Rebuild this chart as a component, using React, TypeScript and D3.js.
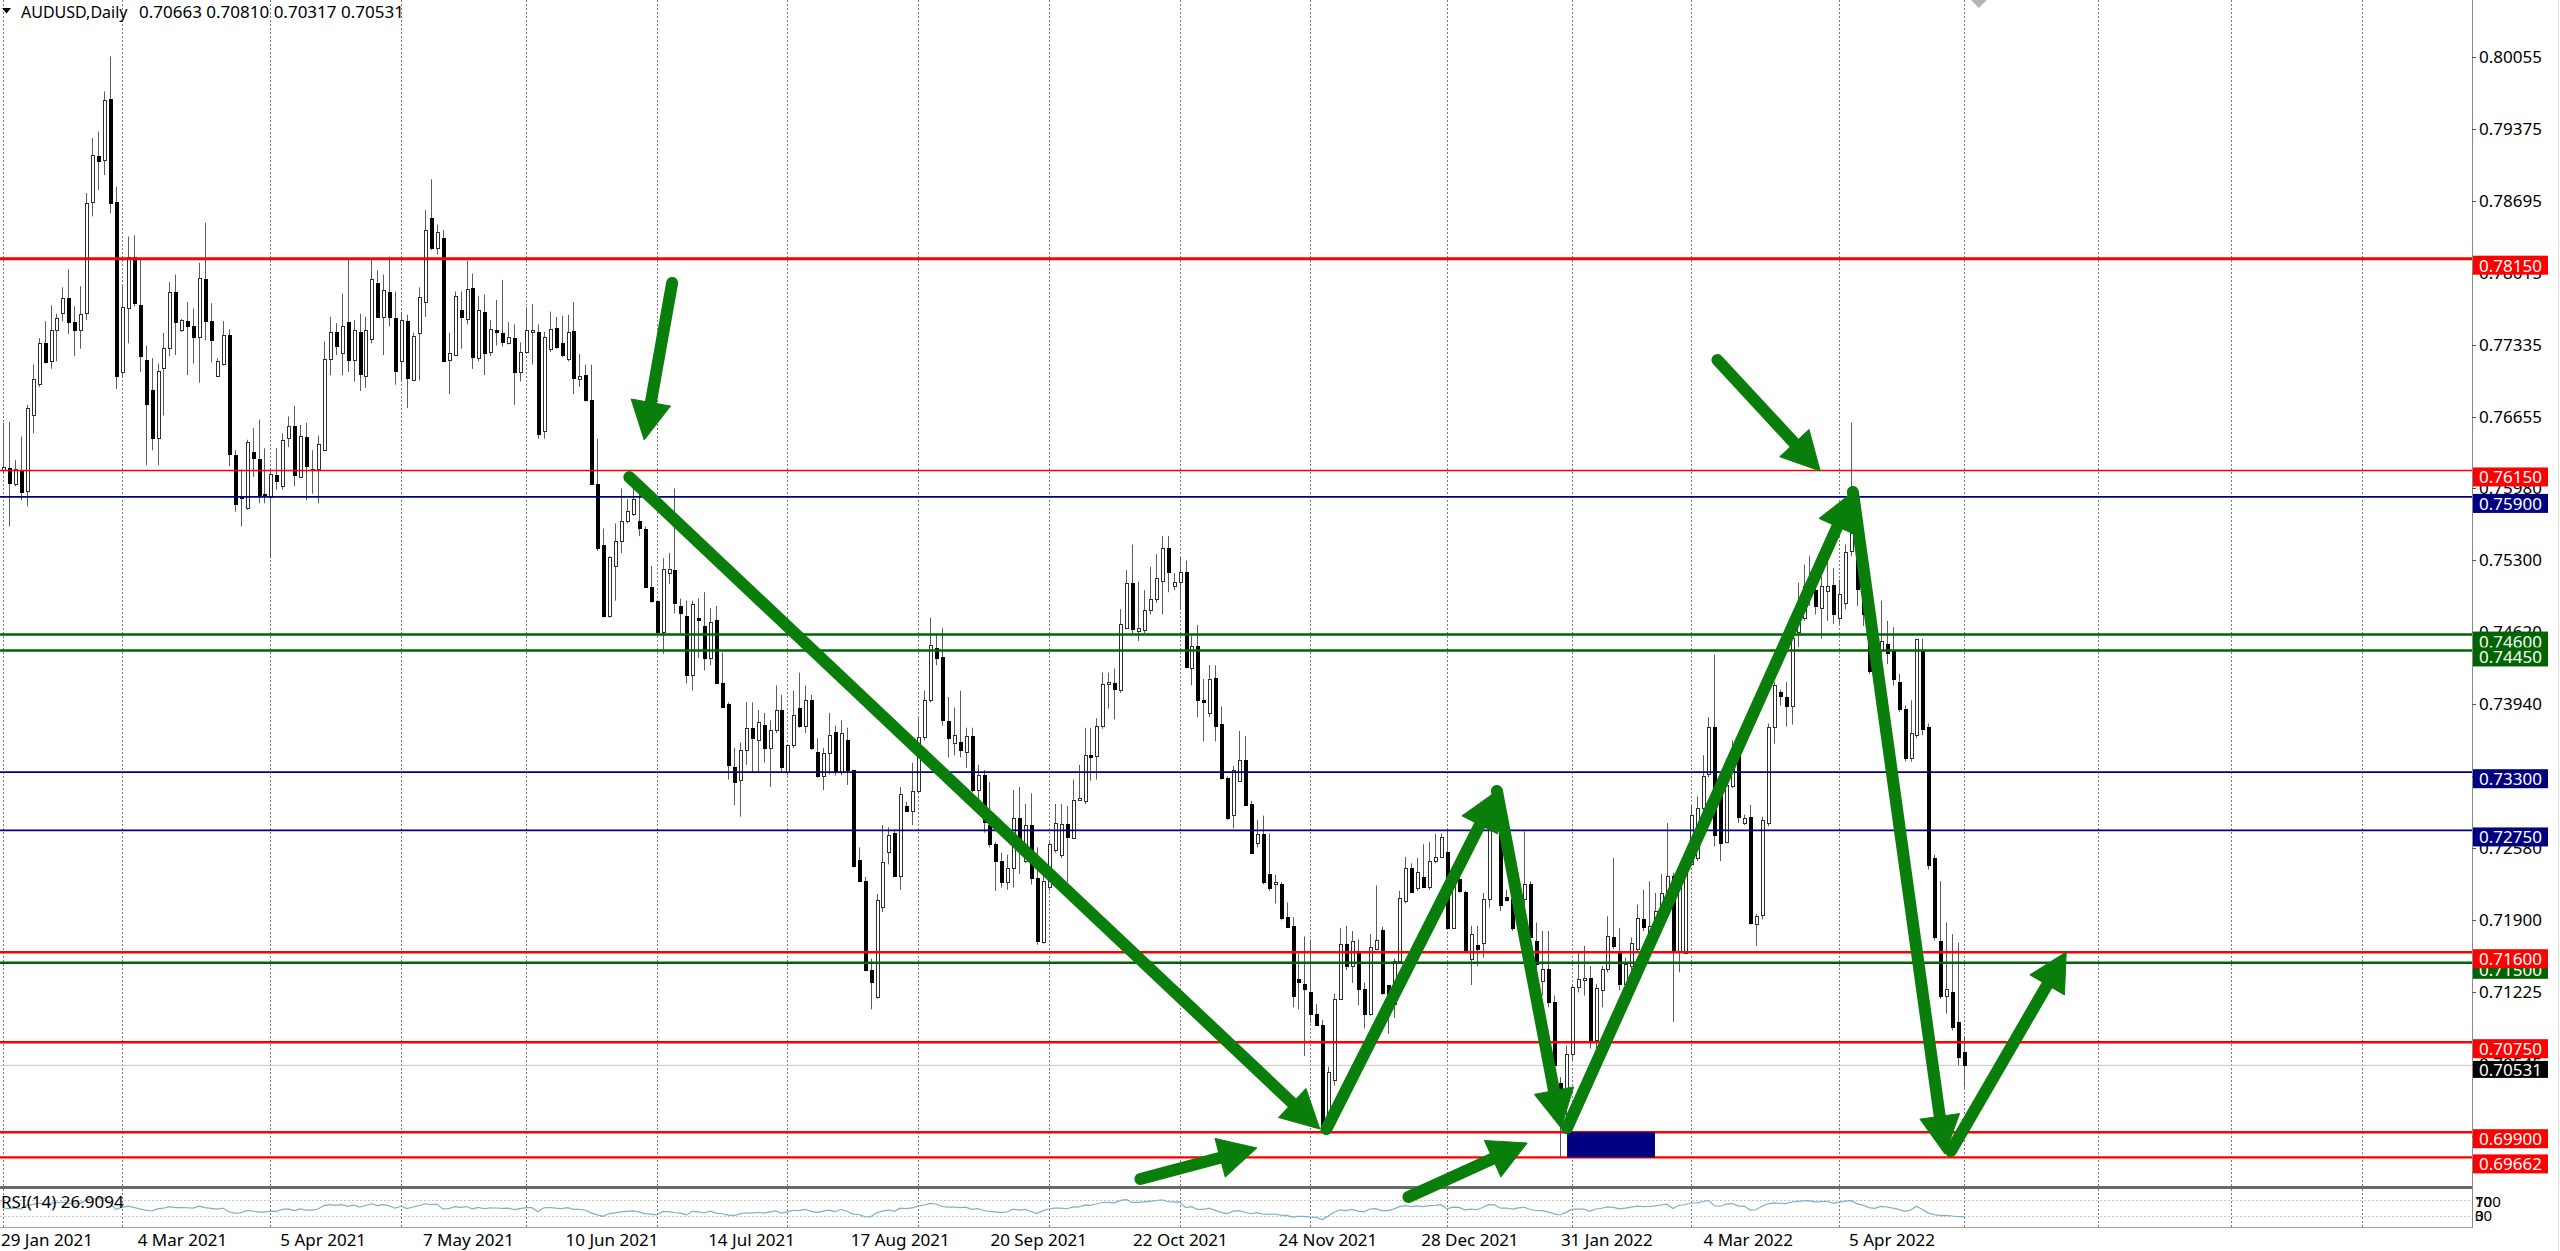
import React, { useEffect } from 'react';
import { scaleLinear, line, format } from 'd3';

// AUDUSD daily bars, prices in pips (x 1e-4) left to right
const opens = [
  7615, 7617, 7602, 7615, 7596, 7667, 7697, 7735, 7718, 7748, 7764, 7778, 7755, 7748, 7764, 7869, 7912, 7908, 7966, 7869,
  7708, 7768, 7817, 7771, 7719, 7691, 7646, 7712, 7731, 7784, 7748, 7756, 7751, 7741, 7796, 7756, 7704, 7716, 7743, 7630,
  7591, 7580, 7632, 7626, 7593, 7590, 7611, 7600, 7646, 7657, 7609, 7647, 7615, 7616, 7634, 7720, 7746, 7726, 7755, 7719,
  7746, 7704, 7739, 7792, 7760, 7784, 7759, 7718, 7756, 7700, 7745, 7774, 7853, 7825, 7835, 7719, 7724, 7767, 7758, 7787,
  7721, 7765, 7727, 7748, 7745, 7735, 7740, 7708, 7727, 7746, 7746, 7652, 7730, 7750, 7735, 7720, 7747, 7701, 7705, 7682,
  7602, 7545, 7478, 7525, 7548, 7567, 7574, 7567, 7560, 7505, 7492, 7462, 7518, 7521, 7487, 7478, 7422, 7476, 7468, 7438,
  7474, 7414, 7394, 7335, 7323, 7351, 7372, 7360, 7375, 7353, 7370, 7389, 7330, 7356, 7391, 7374, 7398, 7349, 7326, 7348,
  7368, 7330, 7360, 7332, 7247, 7227, 7143, 7118, 7203, 7255, 7273, 7232, 7298, 7293, 7312, 7363, 7398, 7447, 7439, 7378,
  7358, 7359, 7349, 7364, 7313, 7327, 7280, 7262, 7246, 7226, 7240, 7287, 7246, 7280, 7230, 7170, 7222, 7257, 7252, 7281,
  7268, 7304, 7303, 7346, 7345, 7374, 7413, 7414, 7408, 7466, 7509, 7463, 7464, 7483, 7494, 7511, 7542, 7506, 7510, 7519,
  7428, 7449, 7398, 7386, 7419, 7376, 7325, 7290, 7322, 7342, 7300, 7263, 7272, 7234, 7224, 7224, 7193, 7185, 7135, 7130,
  7122, 7102, 7091, 6994, 7039, 7116, 7168, 7147, 7159, 7125, 7102, 7163, 7181, 7129, 7111, 7152, 7208, 7240, 7221, 7231,
  7222, 7246, 7250, 7255, 7183, 7229, 7217, 7154, 7167, 7169, 7210, 7282, 7279, 7212, 7210, 7183, 7210, 7224, 7171, 7133,
  7144, 7113, 7036, 7019, 7064, 7127, 7134, 7136, 7077, 7124, 7144, 7174, 7161, 7130, 7147, 7163, 7191, 7177, 7182, 7196,
  7210, 7232, 7160, 7159, 7243, 7249, 7296, 7328, 7373, 7318, 7264, 7317, 7347, 7282, 7288, 7187, 7195, 7282, 7373, 7406,
  7401, 7393, 7462, 7476, 7503, 7502, 7485, 7501, 7507, 7476, 7490, 7539, 7542, 7501, 7456, 7451, 7445, 7451, 7445, 7415,
  7390, 7343, 7365, 7445, 7373, 7249, 7171, 7119, 7122, 7094, 7066,
];
const highs = [
  7660, 7661, 7625, 7647, 7677, 7715, 7740, 7756, 7771, 7763, 7788, 7805, 7770, 7789, 7877, 7929, 7935, 7973, 8006, 7883,
  7789, 7836, 7837, 7814, 7733, 7721, 7716, 7745, 7793, 7800, 7758, 7774, 7768, 7811, 7849, 7773, 7721, 7756, 7748, 7634,
  7616, 7644, 7655, 7663, 7636, 7617, 7636, 7650, 7666, 7676, 7658, 7660, 7634, 7648, 7737, 7760, 7754, 7782, 7815, 7757,
  7763, 7760, 7815, 7804, 7800, 7817, 7784, 7765, 7762, 7745, 7788, 7861, 7890, 7847, 7842, 7745, 7784, 7784, 7813, 7801,
  7780, 7781, 7757, 7776, 7795, 7755, 7753, 7736, 7769, 7772, 7753, 7746, 7765, 7760, 7761, 7762, 7774, 7725, 7715, 7715,
  7645, 7560, 7534, 7565, 7598, 7588, 7612, 7593, 7562, 7525, 7492, 7532, 7537, 7598, 7494, 7492, 7492, 7494, 7500, 7485,
  7487, 7443, 7396, 7353, 7358, 7396, 7396, 7389, 7386, 7379, 7412, 7403, 7356, 7407, 7424, 7412, 7403, 7362, 7353, 7386,
  7374, 7379, 7372, 7332, 7259, 7231, 7154, 7215, 7280, 7278, 7276, 7316, 7302, 7339, 7381, 7407, 7476, 7461, 7466, 7401,
  7391, 7407, 7372, 7372, 7337, 7332, 7321, 7264, 7254, 7252, 7313, 7316, 7300, 7310, 7259, 7234, 7264, 7300, 7300, 7298,
  7323, 7337, 7372, 7372, 7381, 7424, 7424, 7428, 7484, 7521, 7545, 7510, 7502, 7524, 7536, 7553, 7553, 7518, 7533, 7530,
  7459, 7469, 7418, 7431, 7431, 7392, 7326, 7336, 7369, 7364, 7303, 7285, 7289, 7272, 7233, 7226, 7207, 7193, 7159, 7175,
  7172, 7111, 7096, 7052, 7121, 7183, 7185, 7180, 7172, 7131, 7177, 7223, 7184, 7129, 7154, 7218, 7250, 7244, 7249, 7262,
  7264, 7272, 7272, 7275, 7226, 7234, 7218, 7185, 7185, 7216, 7285, 7288, 7285, 7219, 7224, 7235, 7274, 7227, 7188, 7180,
  7180, 7119, 7042, 7072, 7130, 7160, 7166, 7147, 7130, 7147, 7194, 7249, 7183, 7155, 7174, 7205, 7219, 7227, 7216, 7234,
  7282, 7235, 7243, 7252, 7299, 7307, 7346, 7382, 7441, 7321, 7332, 7360, 7351, 7290, 7299, 7196, 7288, 7376, 7415, 7408,
  7415, 7465, 7509, 7526, 7534, 7517, 7515, 7534, 7523, 7512, 7545, 7660, 7548, 7506, 7462, 7456, 7492, 7473, 7467, 7423,
  7393, 7398, 7456, 7456, 7376, 7252, 7227, 7188, 7177, 7169, 7081,
];
const lows = [
  7612, 7562, 7600, 7587, 7581, 7650, 7694, 7716, 7711, 7718, 7756, 7744, 7723, 7730, 7757, 7855, 7880, 7894, 7858, 7692,
  7704, 7735, 7770, 7708, 7620, 7634, 7620, 7667, 7723, 7724, 7746, 7705, 7716, 7698, 7738, 7717, 7703, 7714, 7619, 7576,
  7562, 7578, 7609, 7584, 7584, 7532, 7597, 7597, 7637, 7600, 7608, 7587, 7593, 7584, 7633, 7705, 7724, 7705, 7708, 7699,
  7690, 7693, 7735, 7759, 7724, 7751, 7696, 7700, 7674, 7700, 7700, 7760, 7823, 7819, 7717, 7687, 7723, 7730, 7753, 7711,
  7718, 7705, 7723, 7733, 7732, 7734, 7677, 7699, 7725, 7715, 7645, 7645, 7727, 7730, 7722, 7718, 7687, 7694, 7680, 7602,
  7539, 7476, 7476, 7492, 7537, 7565, 7572, 7553, 7504, 7490, 7461, 7442, 7508, 7480, 7461, 7414, 7407, 7438, 7426, 7431,
  7414, 7391, 7323, 7299, 7288, 7337, 7330, 7330, 7339, 7316, 7367, 7330, 7327, 7353, 7372, 7367, 7351, 7325, 7313, 7328,
  7327, 7327, 7318, 7240, 7226, 7142, 7106, 7116, 7198, 7243, 7231, 7219, 7293, 7280, 7311, 7360, 7396, 7431, 7374, 7344,
  7346, 7344, 7334, 7311, 7292, 7273, 7259, 7218, 7221, 7219, 7221, 7234, 7244, 7224, 7167, 7168, 7218, 7254, 7249, 7226,
  7267, 7303, 7300, 7322, 7323, 7371, 7390, 7380, 7405, 7465, 7461, 7454, 7461, 7479, 7490, 7479, 7500, 7502, 7484, 7428,
  7412, 7382, 7359, 7382, 7359, 7323, 7285, 7277, 7321, 7298, 7253, 7259, 7224, 7218, 7206, 7190, 7183, 7108, 7106, 7062,
  7093, 7090, 6993, 6993, 7034, 7115, 7143, 7131, 7110, 7088, 7100, 7162, 7120, 7083, 7098, 7149, 7206, 7216, 7218, 7221,
  7219, 7244, 7249, 7182, 7182, 7216, 7159, 7129, 7147, 7155, 7202, 7274, 7199, 7208, 7180, 7180, 7180, 7169, 7135, 7119,
  7108, 7047, 6966, 6992, 7058, 7122, 7119, 7069, 7069, 7108, 7141, 7163, 7124, 7111, 7141, 7160, 7180, 7169, 7169, 7194,
  7207, 7094, 7141, 7158, 7241, 7246, 7288, 7325, 7260, 7246, 7263, 7315, 7282, 7280, 7186, 7166, 7191, 7279, 7357, 7393,
  7373, 7375, 7448, 7473, 7487, 7479, 7456, 7473, 7470, 7470, 7484, 7534, 7487, 7468, 7423, 7409, 7429, 7432, 7412, 7387,
  7340, 7340, 7362, 7365, 7238, 7171, 7116, 7102, 7086, 7053, 7032,
];
const closes = [
  7618, 7603, 7616, 7595, 7674, 7701, 7735, 7717, 7748, 7759, 7778, 7755, 7748, 7763, 7868, 7913, 7907, 7965, 7868, 7704,
  7769, 7817, 7773, 7723, 7678, 7646, 7709, 7731, 7784, 7755, 7757, 7751, 7741, 7797, 7756, 7738, 7718, 7743, 7631, 7583,
  7589, 7642, 7627, 7591, 7592, 7612, 7605, 7644, 7657, 7611, 7648, 7619, 7616, 7640, 7720, 7746, 7733, 7751, 7719, 7748,
  7706, 7748, 7796, 7760, 7785, 7760, 7709, 7757, 7702, 7742, 7779, 7842, 7825, 7840, 7718, 7726, 7780, 7760, 7786, 7722,
  7767, 7726, 7749, 7746, 7736, 7741, 7708, 7727, 7748, 7748, 7649, 7741, 7749, 7732, 7724, 7746, 7702, 7704, 7682, 7602,
  7542, 7478, 7533, 7548, 7567, 7577, 7588, 7561, 7505, 7492, 7462, 7522, 7522, 7490, 7480, 7422, 7489, 7474, 7438, 7472,
  7414, 7392, 7337, 7321, 7351, 7372, 7362, 7377, 7353, 7370, 7389, 7335, 7356, 7384, 7374, 7398, 7353, 7326, 7348, 7365,
  7330, 7367, 7332, 7241, 7227, 7143, 7132, 7209, 7245, 7271, 7232, 7309, 7293, 7312, 7363, 7398, 7450, 7438, 7379, 7362,
  7365, 7351, 7364, 7313, 7327, 7283, 7262, 7246, 7226, 7240, 7287, 7264, 7280, 7230, 7171, 7227, 7262, 7282, 7281, 7269,
  7304, 7306, 7346, 7344, 7374, 7413, 7415, 7409, 7470, 7509, 7465, 7466, 7483, 7494, 7513, 7542, 7519, 7510, 7519, 7429,
  7449, 7398, 7396, 7418, 7374, 7325, 7287, 7332, 7342, 7299, 7254, 7272, 7226, 7221, 7226, 7192, 7184, 7119, 7132, 7125,
  7102, 7091, 6994, 7047, 7116, 7168, 7147, 7171, 7125, 7102, 7165, 7172, 7121, 7120, 7152, 7211, 7240, 7217, 7236, 7222,
  7246, 7250, 7269, 7183, 7223, 7218, 7162, 7177, 7163, 7210, 7282, 7279, 7205, 7209, 7183, 7210, 7224, 7174, 7149, 7144,
  7113, 7053, 7017, 7064, 7127, 7135, 7136, 7077, 7126, 7144, 7175, 7166, 7130, 7149, 7169, 7192, 7184, 7185, 7199, 7216,
  7232, 7160, 7224, 7243, 7290, 7296, 7326, 7373, 7271, 7263, 7318, 7341, 7288, 7287, 7188, 7194, 7285, 7373, 7412, 7402,
  7393, 7457, 7479, 7506, 7512, 7487, 7506, 7506, 7479, 7498, 7538, 7556, 7503, 7479, 7426, 7412, 7454, 7443, 7418, 7390,
  7343, 7367, 7456, 7371, 7242, 7174, 7119, 7125, 7089, 7061, 7053,
];

const headerQuote = [0.70663, 0.7081, 0.70317, 0.70531];
const lastPrice = 0.70531;
const rsiReading = '26.9094';

const priceTicks = [
  0.80055, 0.79375, 0.78695, 0.78015, 0.77335, 0.76655, 0.7598, 0.753, 0.7462, 0.7394, 0.7326, 0.7258, 0.719, 0.71225,
  0.70545, 0.69865,
];

const dateLabels = [
  '29 Jan 2021', '4 Mar 2021', '5 Apr 2021', '7 May 2021', '10 Jun 2021', '14 Jul 2021', '17 Aug 2021', '20 Sep 2021',
  '22 Oct 2021', '24 Nov 2021', '28 Dec 2021', '31 Jan 2022', '4 Mar 2022', '5 Apr 2022',
];
const dateLabelBars = [0, 23, 47, 71, 95, 119, 143, 166.5, 190.5, 215, 239, 262.5, 286.5, 311];

// month starts (bar positions), including the empty space to the right
const monthGridBars = [0, 20, 45, 67, 88, 110, 132, 154, 176, 198, 220, 243, 264, 284, 309, 330, 352.5, 375, 397];

// horizontal lines drawn on the chart
const levelPrices = [0.7815, 0.7615, 0.759, 0.746, 0.7445, 0.733, 0.7275, 0.715, 0.716, 0.7075, 0.699, 0.69662];
const levelKinds = ['redMajor', 'redThin', 'blue', 'green', 'green', 'blue', 'blue', 'green', 'red', 'red', 'red', 'red'];

// green hand-drawn arrows: from (bar, price) to (bar, price)
const arrowFromBar = [112.6, 105.4, 222.7, 251.4, 263.2, 311.3, 327.8, 288.5, 191.4, 236.5];
const arrowFromPrice = [0.77921, 0.76088, 0.6993, 0.73123, 0.6994, 0.75947, 0.69723, 0.77193, 0.69458, 0.69288];
const arrowToBar = [107.9, 221.6, 251.4, 262.2, 311.3, 326.8, 347.2, 305.8, 211.0, 256.5];
const arrowToPrice = [0.76438, 0.6993, 0.73123, 0.6994, 0.75947, 0.69694, 0.71602, 0.76145, 0.69751, 0.69798];

// navy box between the two lowest lines
const zoneBars = [263.2, 278];
const zonePrices = [0.699, 0.69662];

const shiftMarkerBar = 332.5;

const levelStyle: Record<string, { color: string; width: number }> = {
  redMajor: { color: '#ff0000', width: 3 },
  redThin: { color: '#ff0000', width: 1.6 },
  red: { color: '#ff0000', width: 2.4 },
  blue: { color: '#000080', width: 1.8 },
  green: { color: '#006400', width: 2.6 },
};

const FONT = "'Noto Sans', sans-serif";

export default function App() {
  useEffect(() => {
    document.body.style.margin = '0';
  }, []);

  const width = 2560;
  const height = 1251;
  const plotRight = 2472;
  const mainBottom = 1186;
  const rsiTop = 1189;
  const rsiBottom = 1227;
  const n = closes.length;

  const x = scaleLinear().domain([0, n - 1]).range([3, 1964]);
  const y = scaleLinear().domain([0.80055, 0.69662]).range([57, 1157.4]);
  const yRsi = scaleLinear().domain([0, 100]).range([rsiBottom, rsiTop]);
  const fmt = format('.5f');
  const p = (v: number) => v / 1e4;

  // RSI(14), Wilder smoothing
  const period = 14;
  let seed = 0;
  for (let i = 1; i <= period; i++) seed += Math.abs(closes[i] - closes[i - 1]);
  let avgUp = seed / period / 2;
  let avgDown = avgUp;
  const rsi: number[] = [50];
  for (let i = 1; i < n; i++) {
    const ch = closes[i] - closes[i - 1];
    avgUp = (avgUp * (period - 1) + Math.max(ch, 0)) / period;
    avgDown = (avgDown * (period - 1) + Math.max(-ch, 0)) / period;
    rsi.push(100 - 100 / (1 + avgUp / avgDown));
  }
  const rsiPath = line<number>()
    .x((_, i) => x(i))
    .y((d) => yRsi(d))(rsi) || '';

  const headLen = 38;
  const headHalf = 20;
  const arrows = arrowFromBar.map((_, k) => {
    const x1 = x(arrowFromBar[k]);
    const y1 = y(arrowFromPrice[k]);
    const x2 = x(arrowToBar[k]);
    const y2 = y(arrowToPrice[k]);
    const len = Math.hypot(x2 - x1, y2 - y1);
    const ux = (x2 - x1) / len;
    const uy = (y2 - y1) / len;
    const bx = x2 - ux * headLen;
    const by = y2 - uy * headLen;
    const head = [
      [x2, y2],
      [bx - uy * headHalf, by + ux * headHalf],
      [bx + uy * headHalf, by - ux * headHalf],
    ]
      .map((pt) => pt.join(','))
      .join(' ');
    return { x1, y1, sx: bx + ux * 3, sy: by + uy * 3, head };
  });

  const sm = x(shiftMarkerBar);

  return (
    <svg
      width={width}
      height={height}
      viewBox={`0 0 ${width} ${height}`}
      style={{ position: 'absolute', left: 0, top: 0, display: 'block' }}
      fontFamily={FONT}
    >
      <rect x={0} y={0} width={width} height={height} fill="#ffffff" />

      {/* vertical month grid */}
      {monthGridBars.map((b) => {
        const gx = Math.round(x(b)) + 0.5;
        return (
          <g key={`g${b}`} stroke="#7a7a7a" strokeWidth={1} strokeDasharray="2,2">
            <line x1={gx} x2={gx} y1={0} y2={mainBottom} />
            <line x1={gx} x2={gx} y1={rsiTop} y2={rsiBottom} />
          </g>
        );
      })}

      {/* bid line */}
      <line x1={0} x2={plotRight} y1={y(lastPrice)} y2={y(lastPrice)} stroke="#c8c8c8" strokeWidth={1} />

      {/* candles */}
      {closes.map((c, i) => {
        const o = opens[i];
        const hi = Math.max(highs[i], o, c);
        const lo = Math.min(lows[i], o, c);
        const cx = Math.round(x(i));
        const top = Math.round(y(p(Math.max(o, c))));
        const bot = Math.round(y(p(Math.min(o, c))));
        const h = Math.max(bot - top, 1);
        return (
          <g key={i}>
            <line x1={cx + 0.5} x2={cx + 0.5} y1={y(p(hi))} y2={y(p(lo))} stroke="#5c5c5c" strokeWidth={1} />
            {c >= o ? (
              <rect x={cx - 0.5} y={top + 0.5} width={3} height={h} fill="#ffffff" stroke="#303030" strokeWidth={1} />
            ) : (
              <rect x={cx - 1} y={top} width={4} height={h + 1} fill="#000000" />
            )}
          </g>
        );
      })}

      {/* horizontal levels */}
      {levelPrices.map((lp, k) => {
        const st = levelStyle[levelKinds[k]];
        return (
          <line key={`l${k}`} x1={0} x2={plotRight} y1={y(lp)} y2={y(lp)} stroke={st.color} strokeWidth={st.width} />
        );
      })}

      {/* zone box */}
      <rect
        x={x(zoneBars[0])}
        y={y(zonePrices[0])}
        width={x(zoneBars[1]) - x(zoneBars[0])}
        height={y(zonePrices[1]) - y(zonePrices[0])}
        fill="#000080"
      />

      {/* header */}
      <polygon points="2,8 11,8 6.5,13.5" fill="#000" />
      <text x={21} y={18} fontSize={16} fill="#000">
        AUDUSD,Daily
      </text>
      <text x={139} y={18} fontSize={17} fill="#000">
        {headerQuote.map((v) => fmt(v)).join(' ')}
      </text>
      <polygon points={`${sm - 8},0 ${sm + 8},0 ${sm},8`} fill="#b4b4b4" />

      {/* separator and indicator pane */}
      <rect x={0} y={mainBottom} width={plotRight} height={3} fill="#6a6a6a" />
      <line x1={0} x2={plotRight} y1={rsiBottom + 0.5} y2={rsiBottom + 0.5} stroke="#a0a0a0" strokeWidth={1} />
      {[70, 30].map((lv) => (
        <line
          key={`r${lv}`}
          x1={0}
          x2={plotRight}
          y1={Math.round(yRsi(lv)) + 0.5}
          y2={Math.round(yRsi(lv)) + 0.5}
          stroke="#c4c4c4"
          strokeWidth={1}
          strokeDasharray="2,2"
        />
      ))}
      <path d={rsiPath} fill="none" stroke="#7fb0c8" strokeWidth={1.2} />
      <text x={1} y={1208} fontSize={17} fill="#000">
        {`RSI(14) ${rsiReading}`}
      </text>

      {/* axis frame */}
      <line x1={plotRight + 0.5} x2={plotRight + 0.5} y1={0} y2={rsiBottom + 1} stroke="#8a8a8a" strokeWidth={1} />
      <line x1={2558.5} x2={2558.5} y1={0} y2={height} stroke="#dcdcdc" strokeWidth={1} />

      {/* price ticks */}
      {priceTicks.map((t) => (
        <g key={`t${t}`}>
          <line x1={plotRight} x2={plotRight + 4} y1={Math.round(y(t)) + 0.5} y2={Math.round(y(t)) + 0.5} stroke="#555" />
          <text x={2479} y={y(t) + 6} fontSize={17} fill="#000">
            {fmt(t)}
          </text>
        </g>
      ))}

      {/* level tags */}
      {levelPrices.map((lp, k) => {
        const st = levelStyle[levelKinds[k]];
        const ly = y(lp);
        return (
          <g key={`tag${k}`}>
            <rect x={plotRight + 1} y={ly - 3} width={75} height={19} fill={st.color} />
            <text x={2479} y={ly + 13} fontSize={17} fill="#ffffff">
              {fmt(lp)}
            </text>
          </g>
        );
      })}
      <rect x={plotRight + 1} y={y(lastPrice) - 4.5} width={75} height={17} fill="#000000" />
      <text x={2479} y={y(lastPrice) + 10.5} fontSize={17} fill="#ffffff">
        {fmt(lastPrice)}
      </text>

      {/* RSI scale */}
      {[100, 70].map((v) => (
        <text key={`ra${v}`} x={2475} y={1207} fontSize={15} fill="#000">
          {v}
        </text>
      ))}
      {[30, 0].map((v) => (
        <text key={`rb${v}`} x={2475} y={1221} fontSize={15} fill="#000">
          {v}
        </text>
      ))}

      {/* date axis */}
      {dateLabels.map((d, k) => (
        <text key={d} x={Math.max(0, x(dateLabelBars[k]) - 2)} y={1246} fontSize={17} fill="#000">
          {d}
        </text>
      ))}

      {/* green arrows */}
      {arrows.map((a, k) => (
        <g key={`a${k}`} fill="#0a7e0a" stroke="#0a7e0a">
          <line x1={a.x1} y1={a.y1} x2={a.sx} y2={a.sy} strokeWidth={12} strokeLinecap="round" />
          <polygon points={a.head} strokeWidth={1} strokeLinejoin="round" />
        </g>
      ))}
    </svg>
  );
}
